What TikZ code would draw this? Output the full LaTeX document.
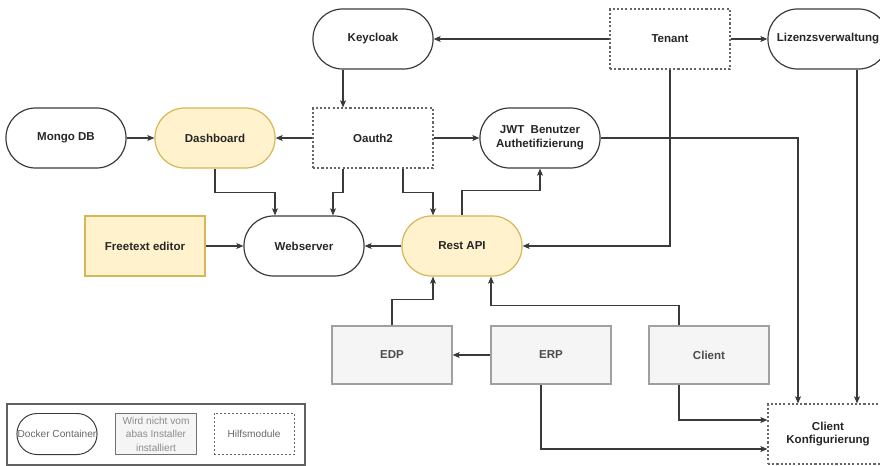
\documentclass[tikz,border=0pt]{standalone}
\usepackage{fontspec}
\setsansfont{Liberation Sans}
\usetikzlibrary{calc,arrows.meta}
\definecolor{gelb}{HTML}{FFF2CC}
\definecolor{gelbrand}{HTML}{D6B656}
\definecolor{grau}{HTML}{F5F5F5}
\definecolor{graurand}{HTML}{A0A0A0}
\definecolor{linie}{HTML}{3A3A3A}

\begin{document}
\begin{tikzpicture}[->,>={Stealth[length=5pt,width=4.2pt,inset=1pt]},x=0.025cm,y=-0.025cm,line width=0.8pt,color=linie,
    main node/.style={rectangle,draw=linie,line width=0.85pt,minimum width=3cm,minimum height=1.5cm,align=center,text=black!85,font=\sffamily\bfseries\fontsize{8.2}{9.8}\selectfont},
    docker/.style={main node,rounded corners=0.74cm},
    hilfs/.style={main node,draw=black!60,line width=0.8pt,dash pattern=on 1.5pt off 1.5pt},
    extern/.style={main node,fill=grau,draw=graurand,minimum height=1.45cm,text=black!70},
    gelbe/.style={fill=gelb,draw=gelbrand},
    legend/.style={align=center,inner sep=0pt,font=\sffamily\fontsize{7.2}{9.6}\selectfont}]
    \useasboundingbox (0,0) rectangle (880,466);

    \node (1) [docker] at (373,39) {Keycloak};
    \node (2) [hilfs] at (670,39) {Tenant};
    \node (3) [docker] at (828,39) {Lizenzsverwaltung};

    \node (4) [docker] at (66,138) {Mongo DB};
    \node (5) [docker,gelbe] at ($(4)+(149,0)$) {Dashboard};
    \node (6) [hilfs] at (373,138) {Oauth2};
    \node (7) [docker] at (540,138) {JWT\ \ Benutzer\\Authetifizierung};

    \node (8) [main node,gelbe] at (145,246) {Freetext editor};
    \node (9) [docker] at (304,246) {Webserver};
    \node (10) [docker,gelbe] at ($(9)+(158,0)$) {Rest API};

    \node (11) [extern] at (392,355) {EDP};
    \node (12) [extern] at ($(11)+(159,0)$) {ERP};
    \node (13) [extern] at ($(12)+(158,0)$) {Client};

    \node (14) [hilfs] at (828,434) {Client\\Konfigurierung};

    \node (15) [draw=linie!80,line width=1.2pt,minimum width=7.45cm,minimum height=1.525cm] at (156,434.5) {};
    \node (16) [legend,draw=linie,line width=0.7pt,rounded corners=0.5cm,minimum width=2cm,minimum height=1.025cm,text=black!60] at (57,434) {Docker Container};
    \node (17) [legend,fill=grau,draw=black!55,line width=0.7pt,minimum width=2cm,minimum height=1.025cm,text=black!45] at (156,434) {Wird nicht vom\\abas Installer\\installiert};
    \node (18) [legend,draw=black!60,line width=0.7pt,dash pattern=on 1.4pt off 1.4pt,minimum width=2cm,minimum height=1.025cm,text=black!60] at (254,434) {Hilfsmodule};

    \path
        (2) edge (1)
        (2) edge (3)
        (4) edge (5)
        (6) edge (5)
        (6) edge (7)
        (8) edge (9)
        (10) edge (9)
        (12) edge (11)
    ;

    \draw ($(1.south)+(-30,0)$) -- ($(6.north)+(-30,0)$);
    \draw (5.south) -- ++(0,24) -| ($(9.north)+(-29,0)$);
    \draw ($(6.south)+(-30,0)$) -- ++(0,24) -| ($(9.north)+(29,0)$);
    \draw ($(6.south)+(30,0)$) -- ++(0,24) -| ($(10.north)+(-29,0)$);
    \draw (10.north) -- ++(0,-25) -| (7.south);
    \draw (2.south) |- (10.east);
    \draw (7.east) -| ($(14.north)+(-30,0)$);
    \draw ($(3.south)+(29,0)$) -- ($(14.north)+(29,0)$);
    \draw (11.north) -- ++(0,-26) -| ($(10.south)+(-29,0)$);
    \draw ($(13.north)+(-30,0)$) -- ++(0,-20) -| ($(10.south)+(29,0)$);
    \draw ($(12.south)+(-10,0)$) |- ($(14.west)+(0,15)$);
    \draw ($(13.south)+(-30,0)$) |- ($(14.west)+(0,-14)$);
\end{tikzpicture}
\end{document}
